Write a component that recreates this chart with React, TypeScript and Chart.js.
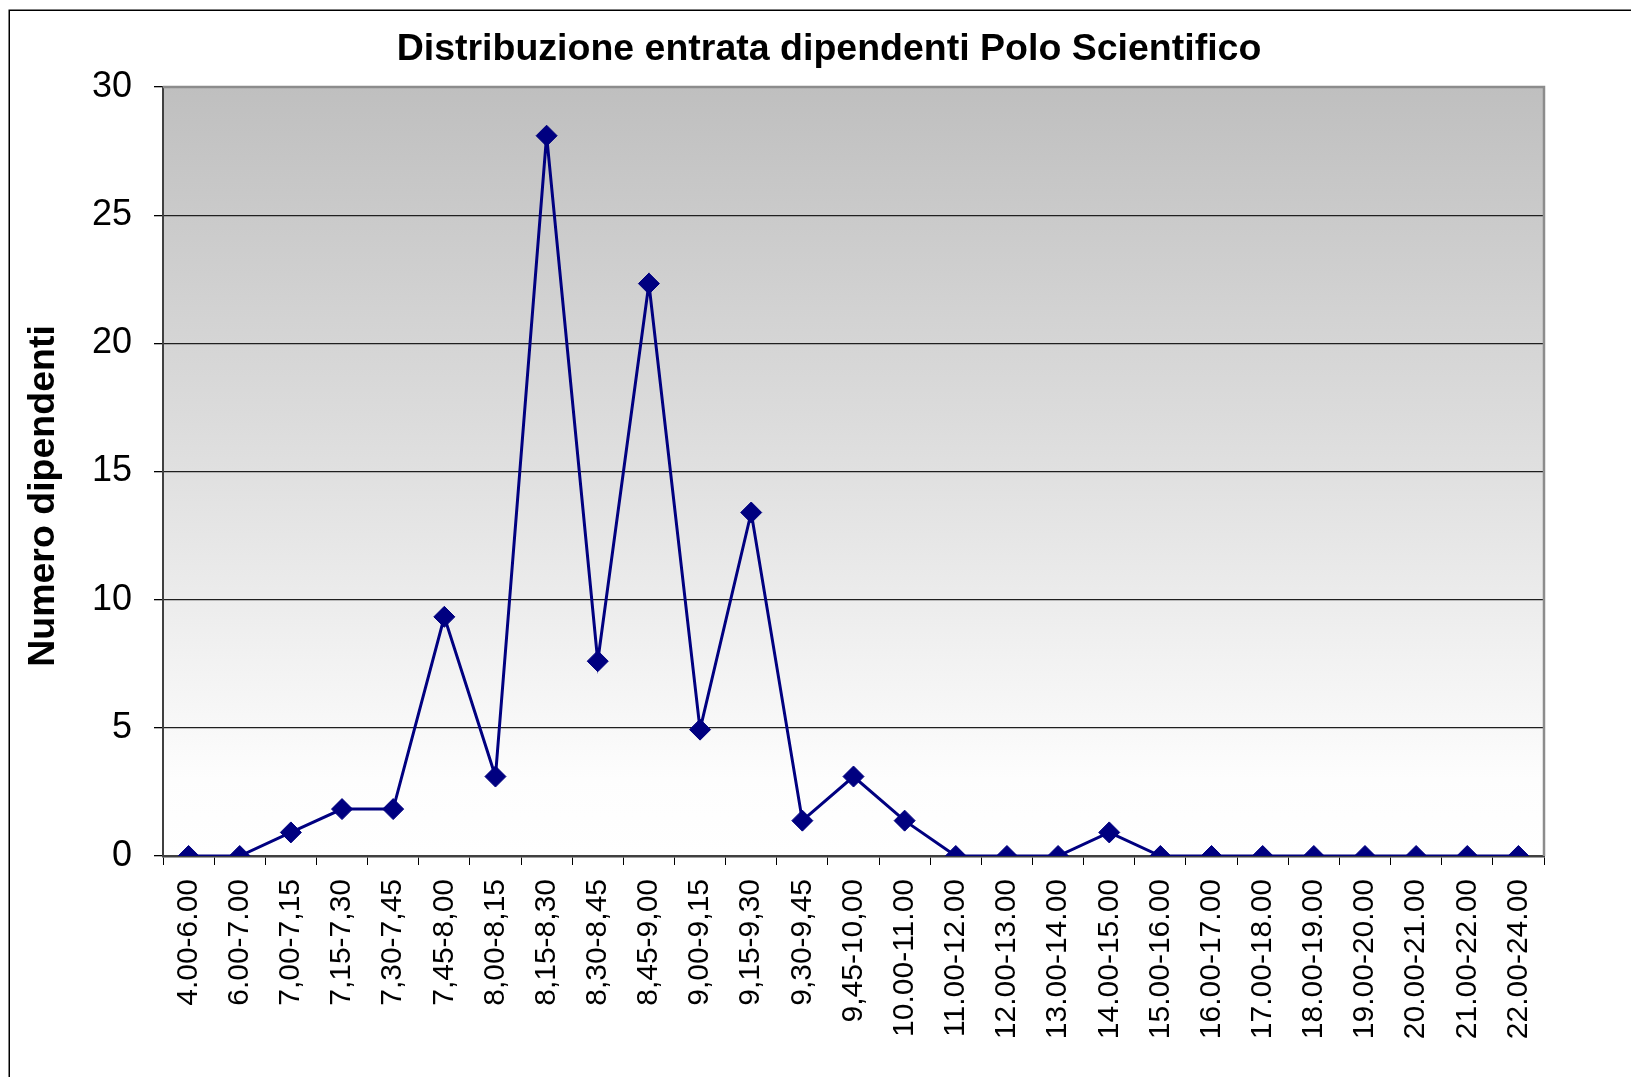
import React, { useEffect, useRef } from 'react';
import { Chart, registerables } from 'chart.js';

Chart.register(...registerables);

const chartTitle = 'Distribuzione entrata dipendenti Polo Scientifico';
const yAxisTitle = 'Numero dipendenti';

const categories = [
  '4.00-6.00', '6.00-7.00', '7,00-7,15', '7,15-7,30', '7,30-7,45', '7,45-8,00',
  '8,00-8,15', '8,15-8,30', '8,30-8,45', '8,45-9,00', '9,00-9,15', '9,15-9,30',
  '9,30-9,45', '9,45-10,00', '10.00-11.00', '11.00-12.00', '12.00-13.00',
  '13.00-14.00', '14.00-15.00', '15.00-16.00', '16.00-17.00', '17.00-18.00',
  '18.00-19.00', '19.00-20.00', '20.00-21.00', '21.00-22.00', '22.00-24.00',
];

const dipendenti = [
  0, 0, 0.92, 1.83, 1.83, 9.33,
  3.1, 28.1, 7.6, 22.33, 4.93, 13.4,
  1.38, 3.1, 1.38, 0, 0,
  0, 0.92, 0, 0, 0,
  0, 0, 0, 0, 0,
];

const yMin = 0;
const yMax = 30;
const yStep = 5;

const FONT = '"Liberation Sans", Arial, sans-serif';

const decorPlugin = {
  id: 'decor',
  beforeDraw(chart: any) {
    const { ctx, chartArea: a } = chart;
    ctx.save();
    ctx.fillStyle = '#ffffff';
    ctx.fillRect(0, 0, chart.width, chart.height);
    const g = ctx.createLinearGradient(0, a.top, 0, a.bottom);
    g.addColorStop(0, '#bfbfbf');
    g.addColorStop(0.5, '#e0e0e0');
    g.addColorStop(0.9, '#fdfdfd');
    g.addColorStop(1, '#ffffff');
    ctx.fillStyle = g;
    ctx.fillRect(a.left, a.top, a.right - a.left, a.bottom - a.top);

    // outer chart border
    ctx.strokeStyle = '#000000';
    ctx.lineWidth = 1.5;
    ctx.strokeRect(9.25, 10.25, chart.width + 100, chart.height + 100);

    // chart title
    ctx.fillStyle = '#000000';
    ctx.font = `bold 37.5px ${FONT}`;
    ctx.textAlign = 'center';
    ctx.textBaseline = 'alphabetic';
    ctx.fillText(chartTitle, 829, 60);

    // y axis title
    ctx.save();
    ctx.translate(54, 496);
    ctx.rotate(-Math.PI / 2);
    ctx.font = `bold 37.5px ${FONT}`;
    ctx.textAlign = 'center';
    ctx.textBaseline = 'alphabetic';
    ctx.fillText(yAxisTitle, 0, 0);
    ctx.restore();
    ctx.restore();
  },
  beforeDatasetsDraw(chart: any) {
    const { ctx, chartArea: a } = chart;
    ctx.save();
    ctx.strokeStyle = '#8c8c8c';
    ctx.lineWidth = 2.5;
    ctx.beginPath();
    ctx.moveTo(a.left, a.top);
    ctx.lineTo(a.right, a.top);
    ctx.lineTo(a.right, a.bottom);
    ctx.stroke();
    ctx.restore();
  },
};

export default function App() {
  const ref = useRef<HTMLCanvasElement | null>(null);

  useEffect(() => {
    if (!ref.current) return;
    const chart = new Chart(ref.current, {
      type: 'line',
      data: {
        labels: categories,
        datasets: [
          {
            label: yAxisTitle,
            data: dipendenti,
            borderColor: '#000080',
            backgroundColor: '#000080',
            borderWidth: 3,
            tension: 0,
            fill: false,
            pointStyle: 'rectRot',
            pointRadius: 10.5,
            pointBackgroundColor: '#000080',
            pointBorderColor: '#000080',
            pointBorderWidth: 1,
          },
        ],
      },
      options: {
        responsive: false,
        animation: false,
        devicePixelRatio: 1,
        layout: { padding: { top: 87, right: 87, bottom: 0, left: 0 } },
        plugins: {
          legend: { display: false },
          tooltip: { enabled: false },
          title: { display: false },
        },
        scales: {
          x: {
            type: 'category',
            offset: true,
            afterFit: (s: any) => {
              s.height = 1077 - 856;
            },
            grid: {
              display: true,
              offset: true,
              drawOnChartArea: false,
              drawTicks: true,
              tickLength: 9,
              color: '#000000',
              tickColor: '#000000',
              lineWidth: 1,
            },
            border: { display: true, color: '#404040', width: 2.5 },
            ticks: {
              autoSkip: false,
              minRotation: 90,
              maxRotation: 90,
              padding: 14,
              color: '#000000',
              font: { family: FONT, size: 30 },
            },
          },
          y: {
            min: yMin,
            max: yMax,
            afterFit: (s: any) => {
              s.width = 163;
            },
            ticks: {
              stepSize: yStep,
              padding: 22,
              color: '#000000',
              font: { family: FONT, size: 36 },
            },
            grid: {
              drawTicks: true,
              tickLength: 9,
              color: (c: any) => (c.tick && c.tick.value === yMax ? 'rgba(0,0,0,0)' : '#1f1f1f'),
              tickColor: '#000000',
              lineWidth: 1.3,
            },
            border: { display: true, color: '#404040', width: 2 },
          },
        },
      },
      plugins: [decorPlugin],
    });
    return () => chart.destroy();
  }, []);

  return (
    <div style={{ position: 'fixed', left: 0, top: 0, width: 1631, height: 1077, background: '#fff' }}>
      <canvas ref={ref} width={1631} height={1077} style={{ display: 'block' }} />
    </div>
  );
}
